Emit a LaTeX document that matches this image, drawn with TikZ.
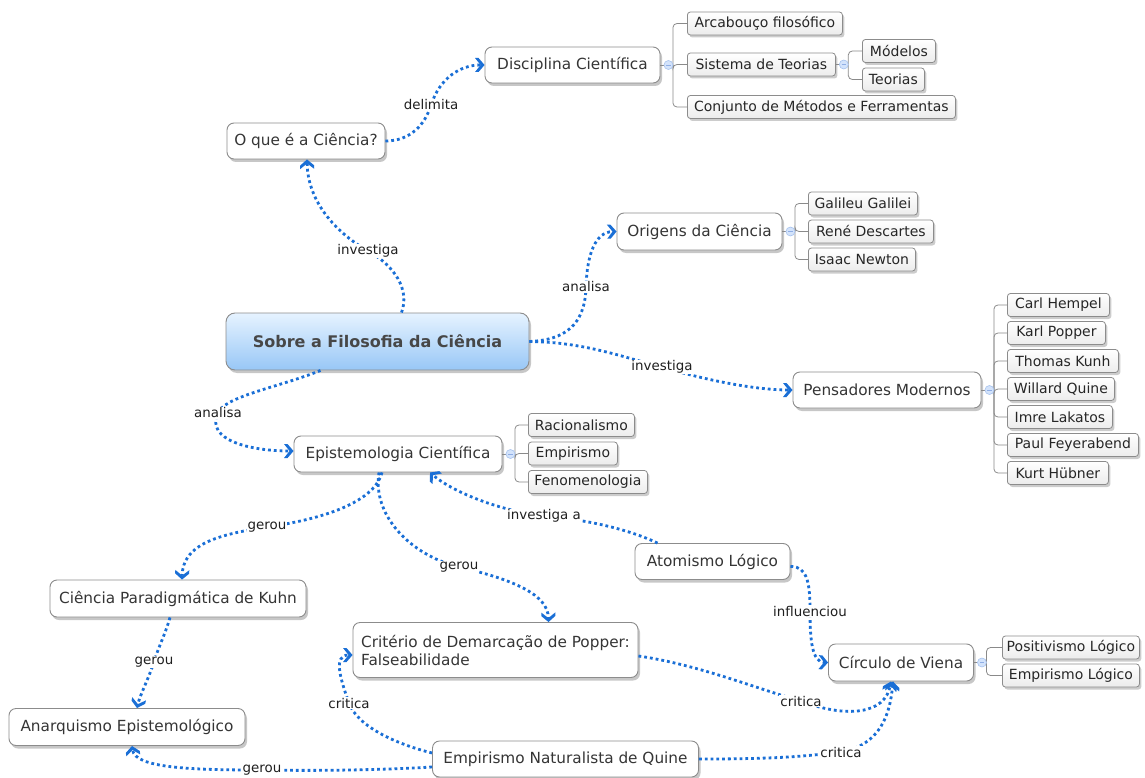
\documentclass[tikz,border=0pt]{standalone}
\usepackage{fontspec}
\setmainfont{DejaVu Sans}
\usetikzlibrary{shadows,decorations.markings}

\definecolor{linkblue}{HTML}{1A6FD6}
\definecolor{frame}{HTML}{8C8C8C}
\definecolor{ink}{HTML}{353535}
\definecolor{treegray}{HTML}{8A8A8A}
\definecolor{knobfill}{HTML}{D3E3FB}
\definecolor{knobdraw}{HTML}{A6C2EE}
\definecolor{knobbar}{HTML}{8FAEE6}
\definecolor{cenTop}{HTML}{E6F3FF}
\definecolor{cenBot}{HTML}{98C7F6}
\definecolor{subBot}{HTML}{ECECEC}

\newcommand\fTopic{\fontsize{15.3}{18}\selectfont}
\newcommand\fSub{\fontsize{14}{16}\selectfont}
\newcommand\fLbl{\fontsize{13.4}{15}\selectfont}
\newcommand\fCen{\fontsize{16}{19}\selectfont\bfseries}

\tikzset{
  topic/.style={draw=frame, line width=0.9pt, rounded corners=7pt, fill=white,
    text=ink, font=\fTopic, inner sep=0pt,
    drop shadow={shadow xshift=2pt, shadow yshift=-3pt, opacity=0.22, fill=black}},
  central/.style={topic, rounded corners=9pt, top color=cenTop, bottom color=cenBot,
    text=black!72, font=\fCen},
  leaf/.style={draw=frame, line width=0.8pt, rounded corners=3pt, top color=white,
    bottom color=subBot, text=black!85, font=\fSub, inner sep=0pt,
    minimum height=23pt, anchor=west,
    drop shadow={shadow xshift=2pt, shadow yshift=-2.5pt, opacity=0.2, fill=black}},
  knob/.style={circle, draw=knobdraw, fill=knobfill, line width=0.6pt,
    minimum size=9pt, inner sep=0pt,
    path picture={\draw[knobbar, line width=0.7pt]
      ([xshift=-2.2pt]path picture bounding box.center) --
      ([xshift=2.2pt]path picture bounding box.center);}},
  tree/.style={draw=treegray, line width=0.8pt},
  % dotted link ending in a solid bold chevron
  conn/.style={draw=linkblue, line width=2.8pt, dash pattern=on 2.8pt off 3pt,
    shorten >=4pt,
    postaction={decorate, decoration={markings, mark=at position 0.9999 with {
      \fill[linkblue] (0pt,0pt) -- (-6pt,-7pt) -- (-9.5pt,-7pt) -- (-4pt,0pt)
        -- (-9.5pt,7pt) -- (-6pt,7pt) -- cycle;}}}},
  lbl/.style={fill=white, inner sep=1pt, text=black!88, font=\fLbl},
}

\begin{document}
\begin{tikzpicture}[x=1pt,y=-1pt]
\useasboundingbox[fill=white] (0,0) rectangle (1145,778);

% ---- main topics ----
\node[central, minimum width=303, minimum height=57] (cen) at (377.5,341.5) {Sobre a Filosofia da Ciência};
\node[topic, minimum width=158, minimum height=36] (oq)  at (306,141)     {O que é a Ciência?};
\node[topic, minimum width=175, minimum height=36] (dis) at (572.5,65)    {Disciplina Científica};
\node[topic, minimum width=165, minimum height=37] (ori) at (699.5,231.5) {Origens da Ciência};
\node[topic, minimum width=188, minimum height=36] (pen) at (887,390)     {Pensadores Modernos};
\node[topic, minimum width=208, minimum height=36] (epi) at (398,454)     {Epistemologia Científica};
\node[topic, minimum width=256, minimum height=37] (cp)  at (178,598.5)   {Ciência Paradigmática de Kuhn};
\node[topic, minimum width=236, minimum height=37] (an)  at (127,727)     {Anarquismo Epistemológico};
\node[topic, minimum width=285, minimum height=55, align=left] (cr) at (495.5,650)
  {Critério de Demarcação de Popper:\\Falseabilidade};
\node[topic, minimum width=155, minimum height=36] (at)  at (712.5,561.5) {Atomismo Lógico};
\node[topic, minimum width=145, minimum height=37] (cv)  at (901,662.5)   {Círculo de Viena};
\node[topic, minimum width=266, minimum height=36] (en)  at (565.5,759)   {Empirismo Naturalista de Quine};

% ---- leaves ----
\node[leaf, minimum width=155] (arc) at (687,23.5)  {Arcabouço filosófico};
\node[leaf, minimum width=148] (sis) at (687,64.5)  {Sistema de Teorias};
\node[leaf, minimum width=268] (con) at (687,107)   {Conjunto de Métodos e Ferramentas};
\node[leaf, minimum width=73]  (mod) at (862,51)    {Módelos};
\node[leaf, minimum width=62]  (teo) at (862,79.5)  {Teorias};

\node[leaf, minimum width=109] (gal) at (808,203.5) {Galileu Galilei};
\node[leaf, minimum width=125] (ren) at (808,231.5) {René Descartes};
\node[leaf, minimum width=107] (isa) at (808,259.5) {Isaac Newton};

\node[leaf, minimum width=102] (hem) at (1007,305) {Carl Hempel};
\node[leaf, minimum width=98]  (pop) at (1007,333) {Karl Popper};
\node[leaf, minimum width=111] (kun) at (1007,361) {Thomas Kunh};
\node[leaf, minimum width=107] (qui) at (1007,389) {Willard Quine};
\node[leaf, minimum width=105] (lak) at (1007,417) {Imre Lakatos};
\node[leaf, minimum width=131] (fey) at (1007,445) {Paul Feyerabend};
\node[leaf, minimum width=101] (hub) at (1007,473) {Kurt Hübner};

\node[leaf, minimum width=106] (rac) at (528,425)   {Racionalismo};
\node[leaf, minimum width=89]  (emp) at (528,453.5) {Empirismo};
\node[leaf, minimum width=119] (fen) at (528,482)   {Fenomenologia};

\node[leaf, minimum width=137] (pos) at (1002,647.5) {Positivismo Lógico};
\node[leaf, minimum width=137] (eml) at (1002,675.5) {Empirismo Lógico};

% ---- tree branches with collapse knobs ----
\foreach \p/\k/\kids in {dis/kDis/{arc,sis,con}, sis/kSis/{mod,teo}, ori/kOri/{gal,ren,isa},
                        pen/kPen/{hem,pop,kun,qui,lak,fey,hub}, epi/kEpi/{rac,emp,fen},
                        cv/kCv/{pos,eml}} {
  \draw[tree] (\p.east) -- ++(4,0) coordinate (\k-in);
  \coordinate (\k-out) at ([xshift=12.5pt]\p.east);
  \draw[tree] ([xshift=8pt]\p.east) -- (\k-out);
  \foreach \c in \kids {
    \draw[tree, rounded corners=4pt] (\k-out) |- (\c.west);
  }
  \node[knob] (\k) at ([xshift=8pt]\p.east) {};
}

% ---- label anchors ----
\coordinate (p1)  at (368,251);
\coordinate (p2)  at (431,105);
\coordinate (p3)  at (586,287);
\coordinate (p4)  at (662,367);
\coordinate (p5)  at (218,413);
\coordinate (p6)  at (267,527);
\coordinate (p7)  at (459,567);
\coordinate (p8)  at (544,516);
\coordinate (p9)  at (810,611);
\coordinate (p10) at (154,662);
\coordinate (p11) at (801,701);
\coordinate (p12) at (841,752);
\coordinate (p13) at (349,703);
\coordinate (p14) at (262,770);

% ---- dotted links ----
\draw[conn] ([xshift=24pt]cen.north) .. controls (410,290) and (395,266) .. (p1)
            .. controls (340,235) and (308,205) .. ([xshift=1pt]oq.south);
\draw[conn] (oq.east) .. controls (410,141) and (425,125) .. (p2)
            .. controls (440,78) and (460,65) .. (dis.west);
\draw[conn] (cen.east) .. controls (565,340) and (585,325) .. (p3)
            .. controls (587,255) and (595,232) .. (ori.west);
\draw[conn] (cen.east) .. controls (585,342) and (625,358) .. (p4)
            .. controls (705,380) and (755,390) .. (pen.west);
\draw[conn] ([xshift=-57pt]cen.south) .. controls (280,387) and (225,396) .. (p5)
            .. controls (205,440) and (250,451) .. ([yshift=3pt]epi.west);
\draw[conn] ([xshift=-16pt]epi.south) .. controls (375,500) and (330,518) .. (p6)
            .. controls (215,535) and (183,545) .. ([xshift=4pt]cp.north);
\draw[conn] ([xshift=-19pt]epi.south) .. controls (372,515) and (410,555) .. (p7)
            .. controls (515,580) and (548,595) .. ([xshift=53pt]cr.north);
\draw[conn] ([xshift=-55pt]at.north) .. controls (630,530) and (590,520) .. (p8)
            .. controls (495,510) and (450,490) .. ([xshift=32pt]epi.south);
\draw[conn] ([yshift=-5pt]at.east) .. controls (808,566) and (810,585) .. (p9)
            .. controls (810,640) and (812,662) .. (cv.west);
\draw[conn] ([xshift=-8pt]cp.south) .. controls (165,635) and (158,648) .. (p10)
            .. controls (148,680) and (140,695) .. ([xshift=10pt]an.north);
\draw[conn] ([yshift=-6pt]cr.east) .. controls (700,665) and (760,690) .. (p11)
            .. controls (845,718) and (885,715) .. ([xshift=-10pt]cv.south);
\draw[conn] (en.east) .. controls (770,759) and (800,757) .. (p12)
            .. controls (880,745) and (890,715) .. ([xshift=-8pt]cv.south);
\draw[conn] ([yshift=6pt]en.west) .. controls (400,745) and (358,728) .. (p13)
            .. controls (340,678) and (333,655) .. ([yshift=-5pt]cr.west);
\draw[conn] ([yshift=-8pt]en.west) .. controls (380,770) and (320,771) .. (p14)
            .. controls (190,770) and (135,768) .. ([xshift=5pt]an.south);

% ---- link labels ----
\node[lbl] (t1)  at (p1)  {investiga};
\node[lbl] (t2)  at (p2)  {delimita};
\node[lbl] (t3)  at (p3)  {analisa};
\node[lbl] (t4)  at (p4)  {investiga};
\node[lbl] (t5)  at (p5)  {analisa};
\node[lbl] (t6)  at (p6)  {gerou};
\node[lbl] (t7)  at (p7)  {gerou};
\node[lbl] (t8)  at (p8)  {investiga a};
\node[lbl] (t9)  at (p9)  {influenciou};
\node[lbl] (t10) at (p10) {gerou};
\node[lbl] (t11) at (p11) {critica};
\node[lbl] (t12) at (p12) {critica};
\node[lbl] (t13) at (p13) {critica};
\node[lbl] (t14) at (p14) {gerou};
\end{tikzpicture}
\end{document}
